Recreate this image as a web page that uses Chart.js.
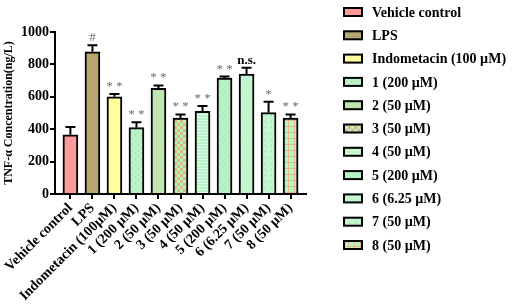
<!DOCTYPE html>
<html>
<head>
<meta charset="utf-8">
<script src="https://cdn.jsdelivr.net/npm/chart.js@4/dist/chart.umd.min.js"></script>
<style>
  html, body { margin: 0; padding: 0; background: #fff; }
</style>
</head>
<body>
<canvas id="chart" width="512" height="305"></canvas>
<script>
// data
const categories = ["Vehicle control", "LPS", "Indometacin (100µM)", "1 (200 µM)", "2 (50 µM)", "3 (50 µM)",
                    "4 (50 µM)", "5 (200 µM)", "6 (6.25 µM)", "7 (50 µM)", "8 (50 µM)"];
const legendLabels = ["Vehicle control", "LPS", "Indometacin (100 µM)", "1 (200 µM)", "2 (50 µM)", "3 (50 µM)",
                      "4 (50 µM)", "5 (200 µM)", "6 (6.25 µM)", "7 (50 µM)", "8 (50 µM)"];
const means = [365, 878, 600, 410, 652, 469, 511, 715, 741, 502, 469];
const errors = [48, 40, 17, 33, 18, 22, 32, 10, 38, 67, 22];
const marks = ["", "#", "* *", "* *", "* *", "* *", "* *", "* *", "n.s.", "*", "* *"];
const yTicks = [0, 200, 400, 600, 800, 1000];
const fills = ["pink", "lps", "yellow", "dots", "finecheck", "check", "hlines", "diag", "diag2", "diagdots", "grid"];

const FONT = "'Liberation Serif', 'Times New Roman', serif";
const MINT = "#b9f4c9";

function makePattern(kind) {
  if (kind == "pink") return "#ff9a9a";
  if (kind == "lps") return "#b6a66f";
  if (kind == "yellow") return "#ffff9c";
  const c = document.createElement("canvas");
  c.width = 6; c.height = 6;
  const g = c.getContext("2d");
  g.fillStyle = MINT;
  g.fillRect(0, 0, 6, 6);
  if (kind == "dots") {
    g.fillStyle = "#8fd9a6";
    g.fillRect(0, 0, 1, 1); g.fillRect(3, 3, 1, 1);
  } else if (kind == "finecheck") {
    g.fillStyle = "#c9d89a";
    for (let y = 0; y < 6; y++) for (let x = 0; x < 6; x++) if ((x + y) % 2 == 0) g.fillRect(x, y, 1, 1);
  } else if (kind == "check") {
    g.fillStyle = "#d9b878";
    g.fillRect(0, 0, 3, 3); g.fillRect(3, 3, 3, 3);
  } else if (kind == "hlines") {
    g.fillStyle = "#e2fbe8";
    g.fillRect(0, 0, 6, 1); g.fillRect(0, 3, 6, 1);
  } else if (kind == "diag" || kind == "diag2" || kind == "diagdots") {
    g.fillStyle = kind == "diag" ? "#a6e8b8" : "#d6f9df";
    for (let i = 0; i < 6; i++) { g.fillRect(i, 5 - i, 1, 1); if (kind != "diag") g.fillRect((i + 3) % 6, 5 - i, 1, 1); }
    if (kind == "diagdots") { g.fillStyle = "#9fe0b2"; g.fillRect(1, 1, 1, 1); }
  } else if (kind == "grid") {
    g.fillStyle = "#e0b884";
    g.fillRect(0, 0, 6, 1); g.fillRect(0, 0, 1, 6);
  }
  return g.createPattern(c, "repeat");
}

const barFills = fills.map(makePattern);

// error bars (upper half only) and significance marks
const errorBars = {
  id: "errorBars",
  afterDatasetsDraw(chart) {
    const ctx = chart.ctx;
    const meta = chart.getDatasetMeta(0);
    const yScale = chart.scales.y;
    ctx.save();
    ctx.strokeStyle = "#000";
    ctx.lineWidth = 2;
    meta.data.forEach((bar, i) => {
      const top = yScale.getPixelForValue(means[i] + errors[i]);
      ctx.beginPath();
      ctx.moveTo(bar.x, bar.y);
      ctx.lineTo(bar.x, top);
      ctx.moveTo(bar.x - 5, top);
      ctx.lineTo(bar.x + 5, top);
      ctx.stroke();
      if (marks[i]) {
        ctx.textAlign = "center";
        ctx.textBaseline = "alphabetic";
        if (marks[i] == "n.s.") {
          ctx.fillStyle = "#000";
          ctx.font = "bold 13px " + FONT;
        } else {
          ctx.fillStyle = "#707070";
          ctx.font = "13px " + FONT;
        }
        ctx.fillText(marks[i], bar.x, top - 4);
      }
    });
    ctx.restore();
  }
};

// legend on the right
const sideLegend = {
  id: "sideLegend",
  afterDraw(chart) {
    const ctx = chart.ctx;
    ctx.save();
    ctx.font = "bold 14px " + FONT;
    ctx.textBaseline = "middle";
    ctx.textAlign = "left";
    legendLabels.forEach((lab, i) => {
      const y = 12 + i * 23.3;
      ctx.fillStyle = barFills[i];
      ctx.fillRect(344, y - 4, 18, 8);
      ctx.strokeStyle = "#000";
      ctx.lineWidth = 2;
      ctx.strokeRect(344, y - 4, 18, 8);
      ctx.fillStyle = "#000";
      ctx.fillText(lab, 372, y + 1);
    });
    ctx.restore();
  }
};

const theChart = new Chart(document.getElementById("chart"), {
  type: "bar",
  data: {
    datasets: [{
      data: means.map((v, i) => ({ x: i, y: v })),
      backgroundColor: barFills,
      borderColor: "#000",
      borderWidth: 2,
      borderSkipped: "bottom",
      barThickness: 15
    }]
  },
  options: {
    responsive: false,
    animation: false,
    layout: { padding: { top: 32, right: 206, left: 0, bottom: 0 } },
    plugins: { legend: { display: false }, tooltip: { enabled: false } },
    scales: {
      x: {
        type: "linear",
        min: -0.7,
        max: 10.7,
        offset: false,
        afterBuildTicks: s => { s.ticks = categories.map((c, i) => ({ value: i })); },
        afterFit: s => { s.height = 111; },
        ticks: {
          autoSkip: false,
          minRotation: 45,
          maxRotation: 45,
          padding: 1,
          color: "#000",
          font: { family: FONT, size: 14, weight: "bold" },
          callback: v => categories[v]
        },
        grid: { offset: false, drawOnChartArea: false, tickLength: 5, color: "#000", lineWidth: 2 },
        border: { color: "#000", width: 2 }
      },
      y: {
        min: 0,
        max: 1000,
        afterBuildTicks: s => { s.ticks = yTicks.map(v => ({ value: v })); },
        afterFit: s => { s.width = 55; },
        ticks: {
          padding: 1,
          color: "#000",
          font: { family: FONT, size: 14, weight: "bold" },
          callback: v => String(v)
        },
        grid: { drawOnChartArea: false, tickLength: 5, color: "#000", lineWidth: 2 },
        border: { color: "#000", width: 2 },
        title: {
          display: true,
          text: "TNF-α Concentration(ng/L)",
          color: "#000",
          padding: { top: 2, bottom: 0 },
          font: { family: FONT, size: 12, weight: "bold" }
        }
      }
    }
  },
  plugins: [errorBars, sideLegend]
});
</script>
</body>
</html>
